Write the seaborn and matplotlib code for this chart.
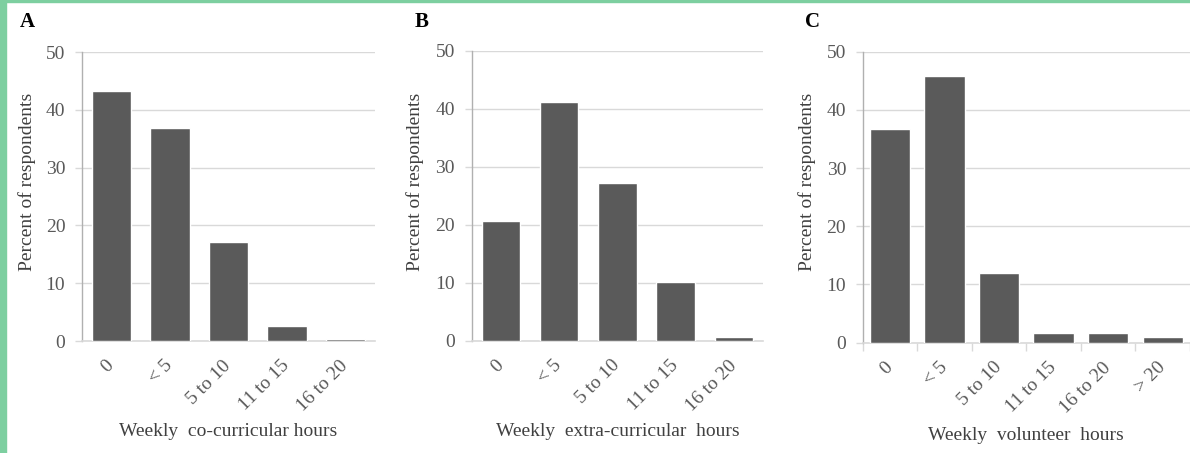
import matplotlib
matplotlib.use("Agg")
import matplotlib.pyplot as plt
from matplotlib.patches import Rectangle
from matplotlib.ticker import FixedLocator
from matplotlib.transforms import ScaledTranslation
import seaborn as sns
import pandas as pd

# Survey categories and percentages per panel
cats_a = ["0", "< 5", "5 to 10", "11 to 15", "16 to 20"]
vals_a = [43.2, 36.9, 17.1, 2.6, 0.4]

cats_b = ["0", "< 5", "5 to 10", "11 to 15", "16 to 20"]
vals_b = [20.7, 41.1, 27.2, 10.1, 0.7]

cats_c = ["0", "< 5", "5 to 10", "11 to 15", "16 to 20", "> 20"]
vals_c = [36.8, 45.8, 11.9, 1.7, 1.7, 1.0]

panel_letters = ["A", "B", "C"]
x_titles = ["Weekly  co-curricular hours",
            "Weekly  extra-curricular  hours",
            "Weekly  volunteer  hours"]
y_title = "Percent of respondents"
y_ticks = [0, 10, 20, 30, 40, 50]

sns.set_theme(style="white")
plt.rcParams["font.family"] = ["Liberation Serif", "DejaVu Serif"]

BAR = "#5a5a5a"
GRID = "#d9d9d9"
TXT = "#595959"
W, H = 1190, 453

fig = plt.figure(figsize=(W / 100, H / 100), dpi=100)
fig.patch.set_facecolor("white")

# green frame on the left and top edges
fig.patches.append(Rectangle((0, 0), 6 / W, 1, transform=fig.transFigure,
                             color="#7dcfa0", zorder=0))
fig.patches.append(Rectangle((0, 1 - 2 / H), 1, 2 / H, transform=fig.transFigure,
                             color="#7dcfa0", zorder=0))

boxes = [
    (0.0689, 0.2472, 0.3151 - 0.0689, 0.8852 - 0.2472),
    (0.3964, 0.2479, 0.6412 - 0.3964, 0.8880 - 0.2479),
    (0.7250, 0.2435, 1.0000 - 0.7250, 0.8859 - 0.2435),
]
datasets = [(cats_a, vals_a), (cats_b, vals_b), (cats_c, vals_c)]
bar_widths = [0.67, 0.66, 0.74]
letter_x = [20, 415, 805]
ylabel_x = [27, 415, 807]
xlabel_y = [432, 432, 435]

# small rightward nudge for the rotated category labels
nudge = ScaledTranslation(3 / 100, 0, fig.dpi_scale_trans)

for i, (box, (cats, vals)) in enumerate(zip(boxes, datasets)):
    ax = fig.add_axes(box)
    df = pd.DataFrame({"cat": cats, "pct": vals})
    sns.barplot(data=df, x="cat", y="pct", color=BAR, saturation=1,
                width=bar_widths[i], ax=ax, zorder=3)
    n = len(cats)
    ax.set_xlim(-0.5, n - 0.5)
    ax.set_ylim(0, 50)
    ax.set_yticks(y_ticks)
    ax.set_yticklabels([str(t) for t in y_ticks], fontsize=14, color=TXT)
    ax.yaxis.grid(True, color=GRID, linewidth=1, zorder=0)
    ax.set_axisbelow(True)
    for s in ["top", "right"]:
        ax.spines[s].set_visible(False)
    ax.spines["left"].set_color("#b0b0b0")
    ax.spines["left"].set_linewidth(1)
    ax.spines["bottom"].set_color(GRID)
    ax.spines["bottom"].set_linewidth(1.2)
    ax.tick_params(axis="y", which="major", length=5, width=1, color=GRID,
                   pad=7, left=True)
    ax.set_xticks(range(n))
    ax.set_xticklabels(cats, rotation=45, ha="right", va="center",
                       rotation_mode="anchor", fontsize=14, color=TXT)
    for lab in ax.get_xticklabels():
        lab.set_transform(lab.get_transform() + nudge)
    if i == 2:
        ax.xaxis.set_minor_locator(FixedLocator([k - 0.5 for k in range(n + 1)]))
        ax.tick_params(axis="x", which="minor", length=6, width=1, color=GRID,
                       bottom=True)
    ax.tick_params(axis="x", which="major", length=0, pad=16)
    ax.set_xlabel("")
    ax.set_ylabel("")
    bb = ax.get_position()
    fig.text((bb.x0 + bb.x1) / 2, 1 - xlabel_y[i] / H, x_titles[i],
             ha="center", va="center", fontsize=14, color="#404040")
    fig.text(ylabel_x[i] / W, 1 - 182 / H, y_title, rotation=90,
             ha="center", va="center", fontsize=14, color="#404040")
    fig.text(letter_x[i] / W, 1 - 22 / H, panel_letters[i],
             fontsize=15, fontweight="bold", color="black", ha="left", va="center")

fig.savefig("out.png", dpi=100, facecolor="white")
